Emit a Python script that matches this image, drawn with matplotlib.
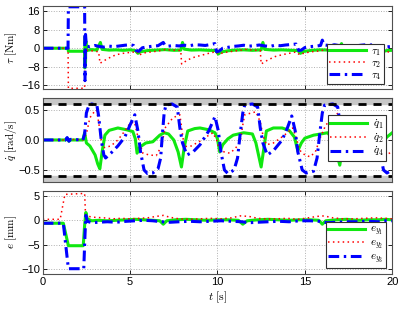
import numpy as np
import matplotlib
matplotlib.use("Agg")
import matplotlib.pyplot as plt

plt.rcParams['mathtext.fontset'] = 'cm'
plt.rcParams['font.family'] = ['Liberation Sans', 'DejaVu Sans']

# (t [s], value)
tau1 = [(0, 0), (1.45, 0), (1.47, -1.3), (2.40, -1.3), (2.41, -8.5), (2.43, 5), (2.45, -6), (2.47, 3),
        (2.5, -1), (2.8, -0.6), (3.1, -0.8), (3.3, 2.5), (3.4, -0.5), (3.8, -0.8), (4.2, -0.7), (4.6, -0.9),
        (5.0, -0.7), (5.3, -1.0), (5.45, -2.2), (5.6, -1.5), (6.0, -1.0), (6.5, -0.8), (7.0, -0.6),
        (7.5, -0.9), (7.9, -0.8), (8.0, 2.5), (8.1, -0.4), (8.5, -0.8), (9.0, -0.7), (9.5, -0.9),
        (9.9, -1.0), (10.05, -2.5), (10.2, -1.6), (10.6, -1.1), (11.0, -0.8), (11.5, -0.7), (12.0, -0.9),
        (12.5, -0.7), (12.6, 2.5), (12.7, -0.5), (13.2, -0.8), (13.7, -0.7), (14.2, -0.9), (14.6, -1.0),
        (14.75, -2.2), (14.9, -1.4), (15.4, -0.9), (15.9, -0.7), (16.4, -0.8), (16.9, -0.7), (17.1, 2.0),
        (17.2, -0.6), (17.7, -0.8), (18.2, -0.7), (18.7, -0.9), (19.1, -1.0), (19.25, -2.2), (19.4, -1.5),
        (19.7, -1.0), (20, -0.9)]
tau2 = [(0, 0), (1.45, 0), (1.47, -17.3), (2.40, -17.3), (2.42, -0.5), (2.6, -1.0), (2.9, -1.2), (3.2, -1.5),
        (3.28, -6.5), (3.6, -5.0), (3.9, -3.8), (4.2, -2.8), (4.6, -2.2), (5.0, -1.8), (5.4, -1.5),
        (5.5, -3.0), (5.8, -2.0), (6.2, -1.6), (6.6, -1.2), (7.0, -0.6), (7.4, -0.8), (7.9, -1.0),
        (7.95, -6.8), (8.3, -5.0), (8.7, -3.8), (9.1, -3.0), (9.5, -2.2), (9.9, -1.5), (10.1, -2.5),
        (10.4, -1.8), (10.8, -1.4), (11.2, -1.0), (11.6, -0.5), (12.0, -0.8), (12.45, -1.0), (12.5, -6.8),
        (12.9, -5.0), (13.3, -3.6), (13.7, -2.8), (14.1, -2.2), (14.5, -1.6), (14.7, -2.8), (15.0, -2.0),
        (15.4, -1.5), (15.8, -1.2), (16.2, -0.6), (16.6, -0.8), (17.0, -1.0), (17.05, -5.5), (17.4, -4.2),
        (17.8, -3.2), (18.2, -2.4), (18.6, -1.8), (19.0, -1.5), (19.2, -2.6), (19.5, -1.8), (20, -1.4)]
tau4 = [(0, 0), (1.45, 0), (1.47, 17.9), (2.40, 17.9), (2.42, -14), (2.45, 6), (2.5, 1.0), (2.7, 0.6),
        (3.0, 1.2), (3.2, 0.8), (3.5, 0.5), (3.8, 0.9), (4.1, 0.7), (4.4, 1.0), (4.7, 1.3), (5.0, 1.5),
        (5.2, 1.2), (5.35, -1.0), (5.5, -1.3), (5.7, 0.2), (6.0, 0.6), (6.3, 0.9), (6.6, 1.1), (6.9, 2.5),
        (7.0, 1.2), (7.2, 0.9), (7.5, 1.2), (7.8, 1.0), (8.1, 1.3), (8.4, 1.1), (8.7, 1.5), (9.0, 1.4),
        (9.3, 1.2), (9.6, 1.6), (9.85, 2.0), (9.95, -1.5), (10.1, -1.2), (10.3, 0.0), (10.6, 0.4),
        (10.9, 0.8), (11.2, 1.0), (11.5, 1.3), (11.8, 0.9), (12.1, 1.1), (12.4, 1.4), (12.7, 1.0),
        (13.0, 0.8), (13.3, 1.3), (13.6, 1.1), (13.9, 1.4), (14.2, 1.6), (14.5, 1.8), (14.65, -1.0),
        (14.8, -0.8), (15.0, 0.3), (15.3, 0.7), (15.6, 0.9), (15.9, 1.2), (16.0, 3.5), (16.1, 1.4),
        (16.4, 1.2), (16.7, 1.5), (17.0, 1.1), (17.3, 0.8), (17.6, 1.2), (17.9, 1.0), (18.2, 1.3),
        (18.5, 1.5), (18.8, 1.4), (19.05, 1.8), (19.2, -0.8), (19.4, -0.5), (19.7, 0.6), (20, 0.8)]

dq1 = [(0, 0), (1.3, 0), (1.4, 0.03), (1.5, -0.02), (1.6, 0), (2.3, 0), (2.4, 0.12), (2.5, -0.05),
       (2.7, -0.1), (3.0, -0.25), (3.15, -0.4), (3.27, -0.48), (3.4, -0.2), (3.56, 0.08), (3.8, 0.16),
       (4.3, 0.2), (4.8, 0.17), (5.16, 0.14), (5.3, 0.02), (5.4, -0.22), (5.55, -0.12), (5.9, -0.05),
       (6.3, -0.03), (6.7, 0.08), (6.95, 0.12), (7.2, 0.1), (7.5, 0.0), (7.75, -0.2), (7.94, -0.45),
       (8.1, -0.12), (8.3, 0.15), (8.7, 0.19), (9.0, 0.2), (9.5, 0.17), (9.86, 0.12), (10.0, 0.02),
       (10.13, -0.2), (10.3, -0.08), (10.6, 0.02), (10.9, 0.08), (11.5, 0.12), (12.0, 0.1), (12.2, -0.05),
       (12.35, -0.25), (12.5, -0.45), (12.65, -0.15), (12.8, 0.15), (13.2, 0.2), (13.7, 0.2), (14.1, 0.16),
       (14.4, 0.05), (14.6, -0.18), (14.8, -0.05), (15.0, 0.03), (15.5, 0.08), (15.9, 0.1), (16.3, 0.12),
       (16.6, 0.02), (16.8, -0.2), (17.0, -0.42), (17.15, -0.15), (17.3, 0.15), (17.8, 0.2), (18.3, 0.2),
       (18.8, 0.16), (19.0, 0.05), (19.2, -0.18), (19.4, -0.05), (19.7, 0.05), (20, 0.12)]
dq2 = [(0, 0), (1.3, 0), (1.4, 0.03), (1.5, -0.03), (1.6, 0.01), (2.3, 0), (2.4, 0.05), (2.5, 0.1),
       (2.7, 0.37), (2.9, 0.45), (3.08, 0.5), (3.2, 0.3), (3.35, 0.0), (3.45, -0.13), (3.9, -0.1),
       (4.3, 0.0), (4.7, 0.15), (5.0, 0.28), (5.25, 0.3), (5.45, 0.05), (5.73, -0.22), (6.1, -0.25),
       (6.5, -0.26), (6.8, -0.1), (7.0, 0.2), (7.45, 0.37), (7.85, 0.42), (7.95, 0.2), (8.1, -0.11),
       (8.5, -0.1), (9.0, -0.02), (9.4, 0.06), (9.74, 0.12), (9.95, 0.0), (10.13, -0.17), (10.4, -0.2),
       (10.7, -0.22), (11.0, -0.15), (11.3, -0.03), (11.45, 0.25), (11.56, 0.42), (12.2, 0.47),
       (12.45, 0.3), (12.6, 0.08), (12.8, -0.08), (13.2, -0.05), (13.6, 0.03), (14.0, 0.12), (14.3, 0.2),
       (14.5, 0.05), (14.7, -0.17), (15.0, -0.25), (15.3, -0.28), (15.6, -0.2), (15.9, 0.05), (16.2, 0.25),
       (16.9, 0.45), (17.05, 0.25), (17.2, 0.0), (17.4, -0.1), (17.8, -0.05), (18.2, 0.02), (18.6, 0.1),
       (18.9, 0.2), (19.1, 0.05), (19.3, -0.17), (19.6, -0.25), (20, -0.2)]
dq4 = [(0, 0), (1.3, 0), (1.4, 0.04), (1.5, -0.02), (1.6, 0.01), (2.3, 0), (2.4, 0.1), (2.5, 0.45),
       (2.65, 0.58), (2.8, 0.6), (3.1, 0.58), (3.2, 0.4), (3.35, 0.0), (3.5, -0.25), (3.6, -0.3),
       (3.9, -0.22), (4.3, -0.1), (4.7, 0.05), (5.0, 0.25), (5.27, 0.42), (5.45, 0.15), (5.6, -0.2),
       (5.8, -0.5), (6.0, -0.56), (6.3, -0.55), (6.6, -0.48), (6.75, -0.3), (6.85, 0.1), (6.95, 0.45),
       (7.05, 0.58), (7.4, 0.6), (7.7, 0.55), (7.85, 0.2), (8.0, -0.05), (8.25, -0.25), (8.6, -0.2),
       (9.0, -0.08), (9.5, 0.15), (9.86, 0.39), (10.05, 0.15), (10.2, -0.2), (10.4, -0.5), (10.6, -0.56),
       (10.95, -0.5), (11.15, -0.3), (11.3, 0.1), (11.45, 0.45), (11.56, 0.58), (12.0, 0.6), (12.3, 0.55),
       (12.45, 0.2), (12.6, -0.05), (12.85, -0.25), (13.2, -0.18), (13.7, 0.0), (14.0, 0.2), (14.25, 0.4),
       (14.45, 0.15), (14.6, -0.2), (14.85, -0.5), (15.08, -0.55), (15.5, -0.52), (15.7, -0.3),
       (15.85, 0.1), (16.0, 0.45), (16.13, 0.58), (16.6, 0.6), (16.88, 0.55), (17.05, 0.2), (17.2, -0.05),
       (17.45, -0.25), (17.8, -0.18), (18.3, 0.0), (18.7, 0.2), (19.0, 0.39), (19.15, 0.15), (19.3, -0.2),
       (19.5, -0.5), (19.7, -0.55), (20, -0.5)]
dq_limit = 0.6

ey1 = [(0, -0.6), (1.18, -0.6), (1.47, -5.2), (2.32, -5.2), (2.40, -1), (2.47, 1.6), (2.55, 0.3),
       (2.8, -0.1), (3.2, 0.0), (3.7, -0.1), (4.2, 0.0), (4.8, 0.1), (5.3, 0.2), (5.8, 0.1), (6.3, 0.0),
       (6.7, -0.1), (6.9, -0.8), (7.1, -0.1), (7.6, 0.1), (8.2, 0.2), (8.8, 0.1), (9.4, 0.0), (10.0, 0.1),
       (10.6, 0.1), (11.2, 0.0), (11.45, -0.8), (11.7, -0.1), (12.3, 0.1), (12.9, 0.2), (13.5, 0.1),
       (14.1, 0.0), (14.7, 0.1), (15.3, 0.1), (15.8, 0.0), (16.0, -0.8), (16.2, -0.1), (16.8, 0.1),
       (17.4, 0.2), (18.0, 0.0), (18.6, 0.1), (19.2, 0.1), (19.6, 0.2), (20, 0.1)]
ey2 = [(0, 0.2), (1.0, 0.2), (1.27, 5.3), (2.40, 5.5), (2.45, 1.2), (2.6, 0.8), (3.0, 0.6), (3.5, 0.5),
       (4.0, 0.3), (4.5, 0.4), (5.0, 0.3), (5.5, 0.4), (6.0, 0.5), (6.5, 0.8), (6.9, 1.0), (7.3, 0.6),
       (7.8, 0.3), (8.4, 0.2), (9.0, 0.3), (9.6, 0.4), (10.2, 0.3), (10.8, 0.5), (11.3, 0.9), (11.8, 0.8),
       (12.3, 0.4), (12.8, 0.3), (13.4, 0.3), (14.0, 0.4), (14.6, 0.2), (15.2, 0.5), (15.7, 0.8),
       (16.1, 0.9), (16.6, 0.5), (17.2, 0.3), (17.8, 0.3), (18.4, 0.4), (19.0, 0.5), (19.6, 0.4), (20, 0.3)]
ey3 = [(0, -0.6), (1.18, -0.6), (1.47, -9.9), (2.35, -9.9), (2.42, -3), (2.47, 1.0), (2.55, -0.2),
       (2.8, -0.5), (3.2, -0.4), (3.7, -0.3), (4.2, -0.4), (4.8, -0.2), (5.3, -0.1), (5.8, 0.0),
       (6.3, -0.1), (6.8, -0.3), (7.3, -0.4), (7.8, -0.3), (8.4, -0.2), (9.0, -0.3), (9.6, -0.2),
       (10.2, -0.1), (10.8, -0.2), (11.4, -0.3), (11.8, -0.5), (12.3, -0.4), (12.9, -0.3), (13.5, -0.2),
       (14.1, -0.3), (14.7, -0.1), (15.3, -0.1), (15.8, -0.2), (16.3, -0.5), (16.8, -0.4), (17.4, -0.3),
       (18.0, -0.3), (18.6, -0.2), (19.2, -0.3), (19.6, -0.1), (20, -0.1)]

GREEN = '#10e810'
RED = '#ff0000'
BLUE = '#0000ff'
styles = [dict(color=GREEN, lw=2.2, ls='-'),
          dict(color=RED, lw=1.1, ls=(0, (1, 2.2))),
          dict(color=BLUE, lw=2.2, ls=(0, (3.5, 1.5, 0.8, 1.5)))]

fig = plt.figure(figsize=(3.99, 3.09), dpi=100)
left, width = 0.107, 0.876
ax1 = fig.add_axes([left, 0.712, width, 0.269])
ax2 = fig.add_axes([left, 0.411, width, 0.272])
ax3 = fig.add_axes([left, 0.113, width, 0.269])


def draw(ax, series, labels):
    for data, st, lab in zip(series, styles, labels):
        t, v = np.array(data).T
        ax.plot(t, v, label=lab, **st)


draw(ax1, [tau1, tau2, tau4], [r'$\tau_1$', r'$\tau_2$', r'$\tau_4$'])
draw(ax2, [dq1, dq2, dq4], [r'$\dot{q}_1$', r'$\dot{q}_2$', r'$\dot{q}_4$'])
draw(ax3, [ey1, ey2, ey3], [r'$e_{y_1}$', r'$e_{y_2}$', r'$e_{y_3}$'])

ax2.axhspan(dq_limit, 1, color='#c8c8c8', zorder=0)
ax2.axhspan(-1, -dq_limit, color='#c8c8c8', zorder=0)
ax2.axhline(dq_limit, color='k', lw=2, ls=(0, (2.9, 2.5)), zorder=5)
ax2.axhline(-dq_limit, color='k', lw=2, ls=(0, (2.9, 2.5)), zorder=5)

ax1.set_ylim(-17.6, 18.3)
ax1.set_yticks([-16, -8, 0, 8, 16])
ax2.set_ylim(-0.7, 0.7)
ax2.set_yticks([-0.5, 0, 0.5])
ax3.set_ylim(-11, 6)
ax3.set_yticks([-10, -5, 0, 5])

ax1.set_ylabel(r'$\tau\ [\mathrm{Nm}]$', fontsize=8)
ax2.set_ylabel(r'$\dot{q}\ [\mathrm{rad/s}]$', fontsize=8)
ax3.set_ylabel(r'$e\ [\mathrm{mm}]$', fontsize=8)
ax3.set_xlabel(r'$t\ [\mathrm{s}]$', fontsize=8.5, labelpad=2)

legend_pos = [(ax1, (0.977, 0.057)), (ax2, (0.982, 0.254)), (ax3, (0.982, 0.069))]
for ax, anchor in legend_pos:
    ax.set_xlim(0, 20)
    ax.set_xticks([0, 5, 10, 15, 20])
    ax.grid(True, ls=':', color='#b0b0b0', lw=0.7)
    ax.tick_params(direction='in', top=True, right=True, length=3, labelsize=8, width=0.6, pad=2)
    for sp in ax.spines.values():
        sp.set_color('#505050')
        sp.set_linewidth(0.8)
    ax.yaxis.set_label_coords(-0.068, 0.5)
    leg = ax.legend(loc='lower right', bbox_to_anchor=anchor, fontsize=8, fancybox=False,
                    framealpha=1, edgecolor='#303030', handlelength=3.3, labelspacing=0.0,
                    borderpad=0.2, handletextpad=0.5, borderaxespad=0)
    leg.get_frame().set_linewidth(0.8)
    leg.set_zorder(10)

ax1.tick_params(labelbottom=False)
ax2.tick_params(labelbottom=False)

fig.savefig('out.png', dpi=100)
